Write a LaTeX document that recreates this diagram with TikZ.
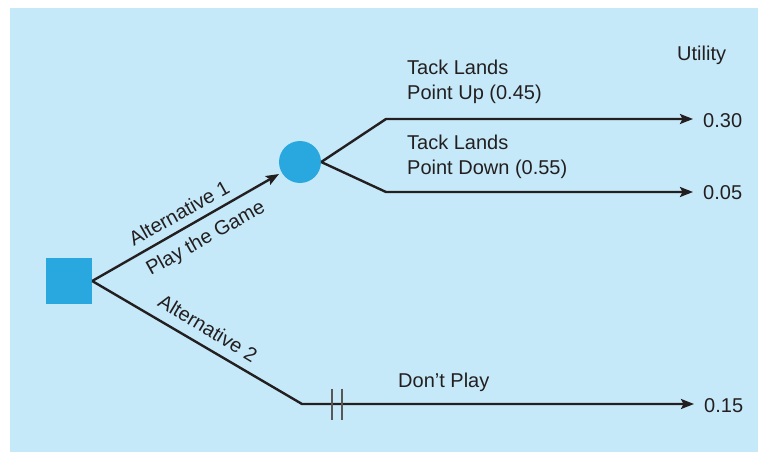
\documentclass[tikz,border=0pt]{standalone}
\usepackage{fontspec}
\setmainfont{Liberation Sans}
\usetikzlibrary{arrows.meta}
\definecolor{bgblue}{HTML}{C6E9F9}
\definecolor{nodeblue}{HTML}{29A8E0}
\definecolor{ink}{HTML}{231F20}
\tikzset{
  lbl/.style={font=\fontsize{20}{25.5}\selectfont, text=ink, inner sep=0pt},
  branch/.style={draw=ink, line width=2.4pt, line join=miter},
  arr/.style={branch, -{Stealth[length=13pt,width=10pt,inset=2.5pt]}},
  hashmark/.style={draw=ink!75, line width=1.4pt},
  decision/.style={fill=nodeblue, minimum size=46pt, inner sep=0pt, draw=none},
  chancenode/.style={circle, fill=nodeblue, minimum size=42pt, inner sep=0pt, draw=none}
}
\begin{document}
\begin{tikzpicture}[x=1pt, y=-1pt]
\useasboundingbox (0,0) rectangle (758,452);
\fill[bgblue] (10,8) rectangle (758,452);
% nodes
\node[decision] (dec) at (69,281) {};
\node[chancenode] (chance) at (300,162) {};
\coordinate (c1) at (386,119);
\coordinate (c2) at (386,192);
\coordinate (c3) at (302,404);
% utilities
\node[lbl, anchor=base west] (util) at (677,61) {Utility};
\node[lbl, anchor=base west] (v1) at (703,128) {0.30};
\node[lbl, anchor=base west] (v2) at (703,199) {0.05};
\node[lbl, anchor=base west] (v3) at (704,412) {0.15};
% branch labels
\node[lbl, anchor=north west, align=left] (up) at (407,59.5) {Tack Lands\\Point Up (0.45)};
\node[lbl, anchor=north west, align=left] (down) at (407,134.5) {Tack Lands\\Point Down (0.55)};
\node[lbl, anchor=base west] (dont) at (398,387) {Don’t Play};
\node[lbl, rotate=29.2] (alt1) at (179,213) {Alternative 1};
\node[lbl, rotate=29.2] (play) at (206,239) {Play the Game};
\node[lbl, rotate=-31] (alt2) at (208,328) {Alternative 2};
% connectors
\draw[arr, shorten >=3pt] (dec.east) -- (chance);
\draw[arr, shorten >=10pt] (chance.east) -- (c1) -- (c1 -| v1.west);
\draw[arr, shorten >=10pt] (chance.east) -- (c2) -- (c2 -| v2.west);
\draw[arr, shorten >=10pt] (dec.east) -- (c3) -- (c3 -| v3.west);
% double hash
\draw[hashmark] ([xshift=30pt]c3) ++(0,-15.5) -- ++(0,31);
\draw[hashmark] ([xshift=40pt]c3) ++(0,-15.5) -- ++(0,31);
\end{tikzpicture}
\end{document}
